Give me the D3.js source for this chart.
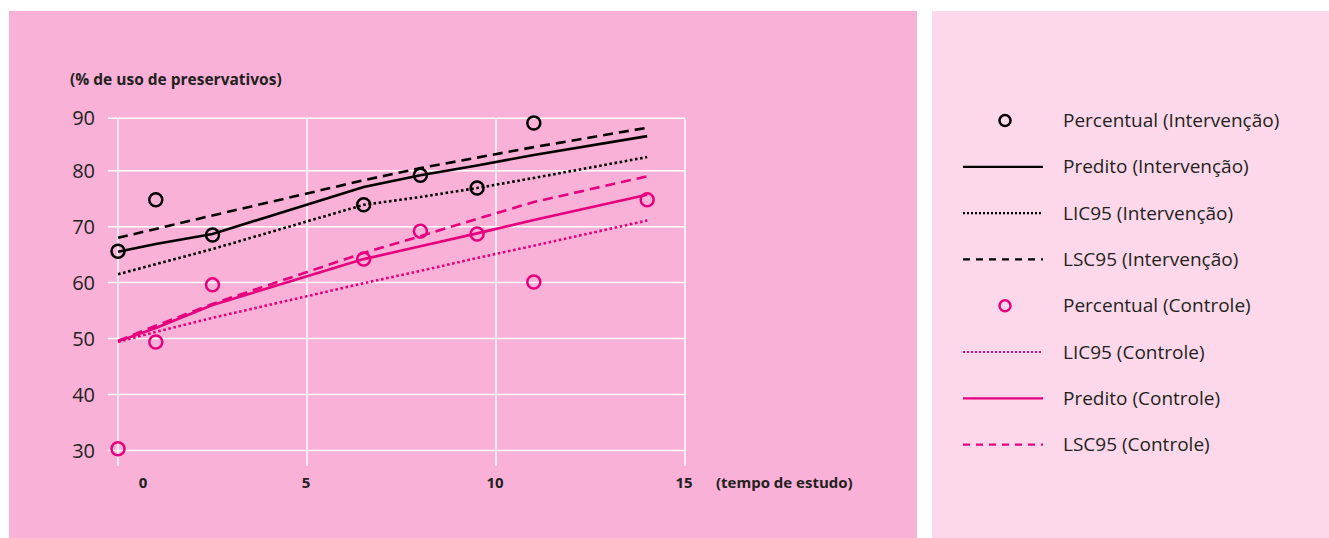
<!DOCTYPE html>
<html>
<head>
<meta charset="utf-8">
<script src="https://cdn.jsdelivr.net/npm/d3@7/dist/d3.min.js"></script>
<style>
  html, body { margin: 0; padding: 0; background: #ffffff; }
  svg { display: block; }
  text { font-family: "Open Sans", "Noto Sans", sans-serif; fill: #231f20; }
</style>
</head>
<body>
<svg id="chart" width="1329" height="538"></svg>
<script>
// Study time points (years of follow-up)
const times = [0, 1, 2.5, 6.5, 8, 9.5, 11, 14];

// Intervention group: observed % and model fit with 95% limits
const obsIntervencao = [65.6, 74.8, 68.5, 73.9, 79.2, 76.9, 89.1];
const obsIntervencaoTimes = [0, 1, 2.5, 6.5, 8, 9.5, 11];
const predIntervencao = [65.5, 66.9, 68.7, 77.1, 79.2, 81.0, 83.0, 86.6];
const licIntervencao  = [61.5, 63.3, 66.0, 73.9, 75.3, 76.9, 78.7, 82.6];
const lscIntervencao  = [68.0, 69.6, 72.0, 78.3, 80.5, 82.5, 84.5, 88.2];

// Control group
const obsControle = [30.3, 49.4, 59.6, 64.2, 69.2, 68.7, 60.1, 74.8];
const predControle = [49.5, 51.9, 56.0, 64.2, 66.5, 68.8, 71.2, 75.7];
const licControle  = [49.4, 51.2, 53.7, 59.9, 62.1, 64.4, 66.6, 71.1];
const lscControle  = [49.6, 52.3, 56.2, 65.3, 68.3, 71.4, 74.4, 79.0];

// Axis ticks
const xTicks = [0, 5, 10, 15];
const yTicks = [30, 40, 50, 60, 70, 80, 90];

const legendItems = [
  "Percentual (Intervenção)",
  "Predito (Intervenção)",
  "LIC95 (Intervenção)",
  "LSC95 (Intervenção)",
  "Percentual (Controle)",
  "LIC95 (Controle)",
  "Predito (Controle)",
  "LSC95 (Controle)"
];

const BLACK = "#000000";
const PINK = "#e6007e";

const svg = d3.select("#chart");

// Panels
svg.append("rect").attr("x", 9).attr("y", 11).attr("width", 908).attr("height", 527).attr("fill", "#f9b1d7");
svg.append("rect").attr("x", 932).attr("y", 11).attr("width", 397).attr("height", 527).attr("fill", "#fdd8ea");

const x = d3.scaleLinear().domain([0, 15]).range([118, 685]);
const y = d3.scaleLinear().domain([30, 80, 90]).range([450.5, 170.7, 118.3]);

// Grid
const grid = svg.append("g").attr("stroke", "#ffffff").attr("stroke-width", 1.5);
grid.selectAll("line.h").data(yTicks).join("line")
  .attr("x1", 108).attr("x2", x(15))
  .attr("y1", d => y(d)).attr("y2", d => y(d));
grid.selectAll("line.v").data(xTicks).join("line")
  .attr("x1", d => x(d)).attr("x2", d => x(d))
  .attr("y1", y(90)).attr("y2", 466);

// Y tick labels
svg.append("g").selectAll("text").data(yTicks).join("text")
  .attr("x", 95).attr("y", d => y(d))
  .attr("dy", "0.35em")
  .attr("text-anchor", "end")
  .style("font-size", "20px")
  .text(d => d);

// X tick labels (the zero label sits a little right of the axis)
svg.append("g").selectAll("text").data(xTicks).join("text")
  .attr("x", d => x(d) + (d === 0 ? 25 : -1))
  .attr("y", 488)
  .attr("text-anchor", "middle")
  .style("font-size", "15px").style("font-weight", "bold")
  .text(d => d);

svg.append("text").attr("x", 716).attr("y", 488)
  .style("font-size", "15px").style("font-weight", "bold")
  .text("(tempo de estudo)");

svg.append("text").attr("x", 70).attr("y", 85)
  .style("font-size", "15.5px").style("font-weight", "bold")
  .text("(% de uso de preservativos)");

// Lines
const line = d3.line().x((d, i) => x(times[i])).y(d => y(d));
const series = [
  { v: lscIntervencao, c: BLACK, dash: "10,6" },
  { v: licIntervencao, c: BLACK, dash: "2.6,2.6" },
  { v: predIntervencao, c: BLACK, dash: null },
  { v: lscControle, c: PINK, dash: "10,6" },
  { v: licControle, c: PINK, dash: "2.6,2.6" },
  { v: predControle, c: PINK, dash: null }
];
svg.append("g").selectAll("path").data(series).join("path")
  .attr("d", d => line(d.v))
  .attr("fill", "none")
  .attr("stroke", d => d.c)
  .attr("stroke-width", 2.6)
  .attr("stroke-dasharray", d => d.dash);

// Observed points
svg.append("g").selectAll("circle").data(obsControle).join("circle")
  .attr("cx", (d, i) => x(times[i])).attr("cy", d => y(d))
  .attr("r", 6.5).attr("fill", "none").attr("stroke", PINK).attr("stroke-width", 2.5);
svg.append("g").selectAll("circle").data(obsIntervencao).join("circle")
  .attr("cx", (d, i) => x(obsIntervencaoTimes[i])).attr("cy", d => y(d))
  .attr("r", 6.5).attr("fill", "none").attr("stroke", BLACK).attr("stroke-width", 2.5);

// Legend
const legendStyles = [
  { c: BLACK, kind: "circle" },
  { c: BLACK, kind: "line", dash: null },
  { c: BLACK, kind: "line", dash: "2,2" },
  { c: BLACK, kind: "line", dash: "7,6" },
  { c: PINK, kind: "circle" },
  { c: PINK, kind: "line", dash: "2,2" },
  { c: PINK, kind: "line", dash: null },
  { c: PINK, kind: "line", dash: "7,6" }
];
const lg = svg.append("g");
const rows = lg.selectAll("g").data(legendItems).join("g")
  .attr("transform", (d, i) => `translate(0, ${120.5 + i * 46.3})`);
rows.each(function (d, i) {
  const s = legendStyles[i];
  const g = d3.select(this);
  if (s.kind === "circle") {
    g.append("circle").attr("cx", 1005).attr("cy", 0).attr("r", 5.5)
      .attr("fill", "none").attr("stroke", s.c).attr("stroke-width", 2.5);
  } else {
    g.append("line").attr("x1", 963).attr("x2", 1043).attr("y1", 0).attr("y2", 0)
      .attr("stroke", s.c).attr("stroke-width", 2.2)
      .attr("stroke-dasharray", s.dash);
  }
  g.append("text").attr("x", 1063).attr("y", 0).attr("dy", "0.35em")
    .style("font-size", "19px").text(d);
});
</script>
</body>
</html>
